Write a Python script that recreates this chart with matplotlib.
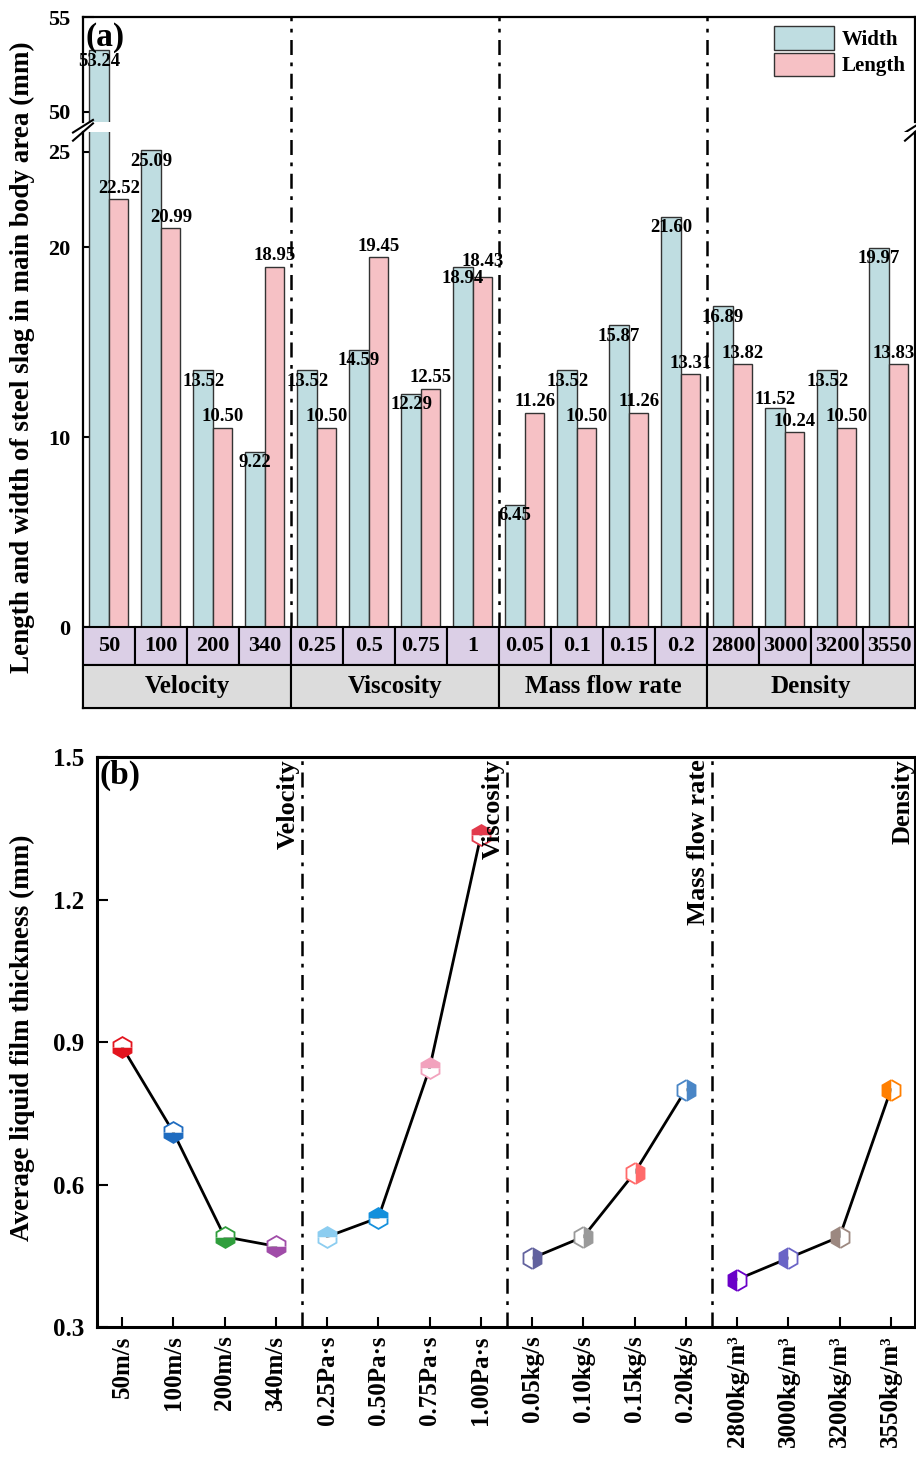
"""Slag size bars and liquid film thickness for the four process parameters."""

import matplotlib

matplotlib.use("Agg")
import matplotlib.pyplot as plt
from matplotlib.patches import Rectangle

plt.rcParams["font.family"] = ["Liberation Serif", "DejaVu Serif"]
plt.rcParams["font.weight"] = "bold"
plt.rcParams["axes.labelweight"] = "bold"

# ---- data -----------------------------------------------------------------
groups = ["Velocity", "Viscosity", "Mass flow rate", "Density"]
levels = ["50", "100", "200", "340",
          "0.25", "0.5", "0.75", "1",
          "0.05", "0.1", "0.15", "0.2",
          "2800", "3000", "3200", "3550"]
width_mm = [53.24, 25.09, 13.52, 9.22,
            13.52, 14.59, 12.29, 18.94,
            6.45, 13.52, 15.87, 21.60,
            16.89, 11.52, 13.52, 19.97]
length_mm = [22.52, 20.99, 10.50, 18.95,
             10.50, 19.45, 12.55, 18.43,
             11.26, 10.50, 11.26, 13.31,
             13.82, 10.24, 10.50, 13.83]

film_ticks = ["50m/s", "100m/s", "200m/s", "340m/s",
              "0.25Pa·s", "0.50Pa·s", "0.75Pa·s", "1.00Pa·s",
              "0.05kg/s", "0.10kg/s", "0.15kg/s", "0.20kg/s",
              "2800kg/m³", "3000kg/m³", "3200kg/m³", "3550kg/m³"]
film_mm = [0.89, 0.71, 0.49, 0.47,
           0.49, 0.53, 0.845, 1.335,
           0.445, 0.49, 0.625, 0.80,
           0.40, 0.445, 0.49, 0.80]

marker_colors = ["#e3141e", "#1f6cc0", "#2f9e3c", "#a04ca8",
                 "#8ccdf0", "#1490dc", "#f2a2bd", "#e23a4c",
                 "#62629e", "#9a9a9a", "#ff6a6a", "#4a86c6",
                 "#6a00c8", "#6a64c6", "#9c8880", "#ff7f00"]
group_fill = ["bottom", "top", "right", "left"]

WIDTH_COLOR = "#bfdde1"
LENGTH_COLOR = "#f6c1c5"
LEVEL_COLOR = "#dbcfe6"
GROUP_COLOR = "#dcdcdc"

n = len(levels)
per_group = 4
x = list(range(n))
dividers = [3.5, 7.5, 11.5]
dashdot = (0, (6, 3, 1.5, 3))

fig = plt.figure(figsize=(9.16, 14.72), dpi=100)

# ---- panel (a): broken y axis ---------------------------------------------
ax_top = fig.add_axes([0.0906, 0.9171, 0.9083, 0.0713])
ax_bot = fig.add_axes([0.0906, 0.5190, 0.9083, 0.3913])
ax_top.set_ylim(49.47, 55)
ax_bot.set_ylim(-4.26, 26.05)

bar_w = 0.37
for ax in (ax_top, ax_bot):
    ax.bar([i - 0.19 for i in x], width_mm, bar_w, color=WIDTH_COLOR,
           edgecolor="#333333", linewidth=1.0, label="Width", zorder=2)
    ax.bar([i + 0.19 for i in x], length_mm, bar_w, color=LENGTH_COLOR,
           edgecolor="#333333", linewidth=1.0, label="Length", zorder=2)
    ax.set_xlim(-0.5, n - 0.5)
    ax.set_xticks([])
    ax.tick_params(axis="y", direction="in", length=8, width=1.5,
                   labelsize=16, pad=9)
    for side in ax.spines.values():
        side.set_linewidth(1.6)

ax_top.spines["bottom"].set_visible(False)
ax_bot.spines["top"].set_visible(False)
ax_top.set_yticks([50, 55])
ax_bot.set_yticks([0, 10, 20, 25])

for d in dividers:
    ax_top.axvline(d, color="black", linestyle=dashdot, lw=1.8, zorder=1)
    ax_bot.plot([d, d], [0, 26.6], color="black", linestyle=dashdot, lw=1.8,
                zorder=1, clip_on=False)

# value labels: width inside the bar top, length just above
width_shift = {13: (0, 6)}
length_shift = {7: (0, 11), 15: (-4, 8)}
for i in x:
    w, l = width_mm[i], length_mm[i]
    ax_w = ax_top if w > 30 else ax_bot
    ax_w.annotate(f"{w:.2f}", (i - 0.19, w),
                  xytext=width_shift.get(i, (0, -8)),
                  textcoords="offset points", ha="center", va="center",
                  fontsize=13.5, zorder=4)
    ax_bot.annotate(f"{l:.2f}", (i + 0.19, l),
                    xytext=length_shift.get(i, (0, 8)),
                    textcoords="offset points", ha="center", va="center",
                    fontsize=13.5, zorder=4)

# category table under the bars
for i in x:
    ax_bot.add_patch(Rectangle((i - 0.5, -2.0), 1, 2.0, facecolor=LEVEL_COLOR,
                               edgecolor="black", lw=1.5, zorder=3))
    ax_bot.text(i, -1.0, levels[i], ha="center", va="center", fontsize=16,
                zorder=4)
for g, name in enumerate(groups):
    left = g * per_group - 0.5
    ax_bot.add_patch(Rectangle((left, -4.26), per_group, 2.26,
                               facecolor=GROUP_COLOR, edgecolor="black",
                               lw=1.5, zorder=3))
    ax_bot.text(left + per_group / 2, -3.13, name, ha="center", va="center",
                fontsize=18, zorder=4)

# break marks on both sides
kw = dict(color="black", lw=1.5, clip_on=False)
for xa in (0.0, 1.0):
    ax_top.plot([xa - 0.012, xa + 0.012], [-0.10, 0.02],
                transform=ax_top.transAxes, **kw)
    ax_bot.plot([xa - 0.012, xa + 0.012], [0.985, 1.015],
                transform=ax_bot.transAxes, **kw)

ax_top.legend(loc="upper right", frameon=False, fontsize=15,
              handlelength=2.9, handleheight=1.35, borderaxespad=0.05,
              handletextpad=0.35, labelspacing=0.12)
ax_top.text(0.003, 0.95, "(a)", transform=ax_top.transAxes, fontsize=24,
            ha="left", va="top")
fig.text(0.024, 0.7575, "Length and width of steel slag in main body area (mm)",
         rotation=90, ha="center", va="center", fontsize=19.5)

# ---- panel (b): liquid film thickness -------------------------------------
ax_b = fig.add_axes([0.1059, 0.0985, 0.893, 0.3872])
ax_b.set_xlim(-0.49, n - 0.53)
ax_b.set_ylim(0.3, 1.5)

for g in range(len(groups)):
    idx = x[g * per_group:(g + 1) * per_group]
    ax_b.plot(idx, [film_mm[i] for i in idx], color="black", lw=2, zorder=2)
    for i in idx:
        ax_b.plot([i], [film_mm[i]], marker="h", markersize=15,
                  fillstyle=group_fill[g], markerfacecolor=marker_colors[i],
                  markerfacecoloralt="white", markeredgecolor=marker_colors[i],
                  markeredgewidth=1.3, linestyle="none", zorder=3)

for d in dividers:
    ax_b.axvline(d, color="black", linestyle=dashdot, lw=1.8, zorder=1)
for g, name in enumerate(groups):
    ax_b.text(g * per_group + 3.24, 1.495, name, rotation=90, ha="center",
              va="top", fontsize=19)

ax_b.set_xticks(x)
ax_b.set_xticklabels(film_ticks, rotation=90)
ax_b.set_yticks([0.3, 0.6, 0.9, 1.2, 1.5])
ax_b.tick_params(axis="x", direction="in", length=7, width=1.5,
                 labelsize=18, pad=6)
ax_b.tick_params(axis="y", direction="in", length=8, width=1.5,
                 labelsize=18, pad=9)
for side in ax_b.spines.values():
    side.set_linewidth(2.2)
ax_b.text(0.003, 0.995, "(b)", transform=ax_b.transAxes, fontsize=24,
          ha="left", va="top")
fig.text(0.024, 0.295, "Average liquid film thickness (mm)", rotation=90,
         ha="center", va="center", fontsize=19.5)

fig.savefig("out.png", dpi=100)
